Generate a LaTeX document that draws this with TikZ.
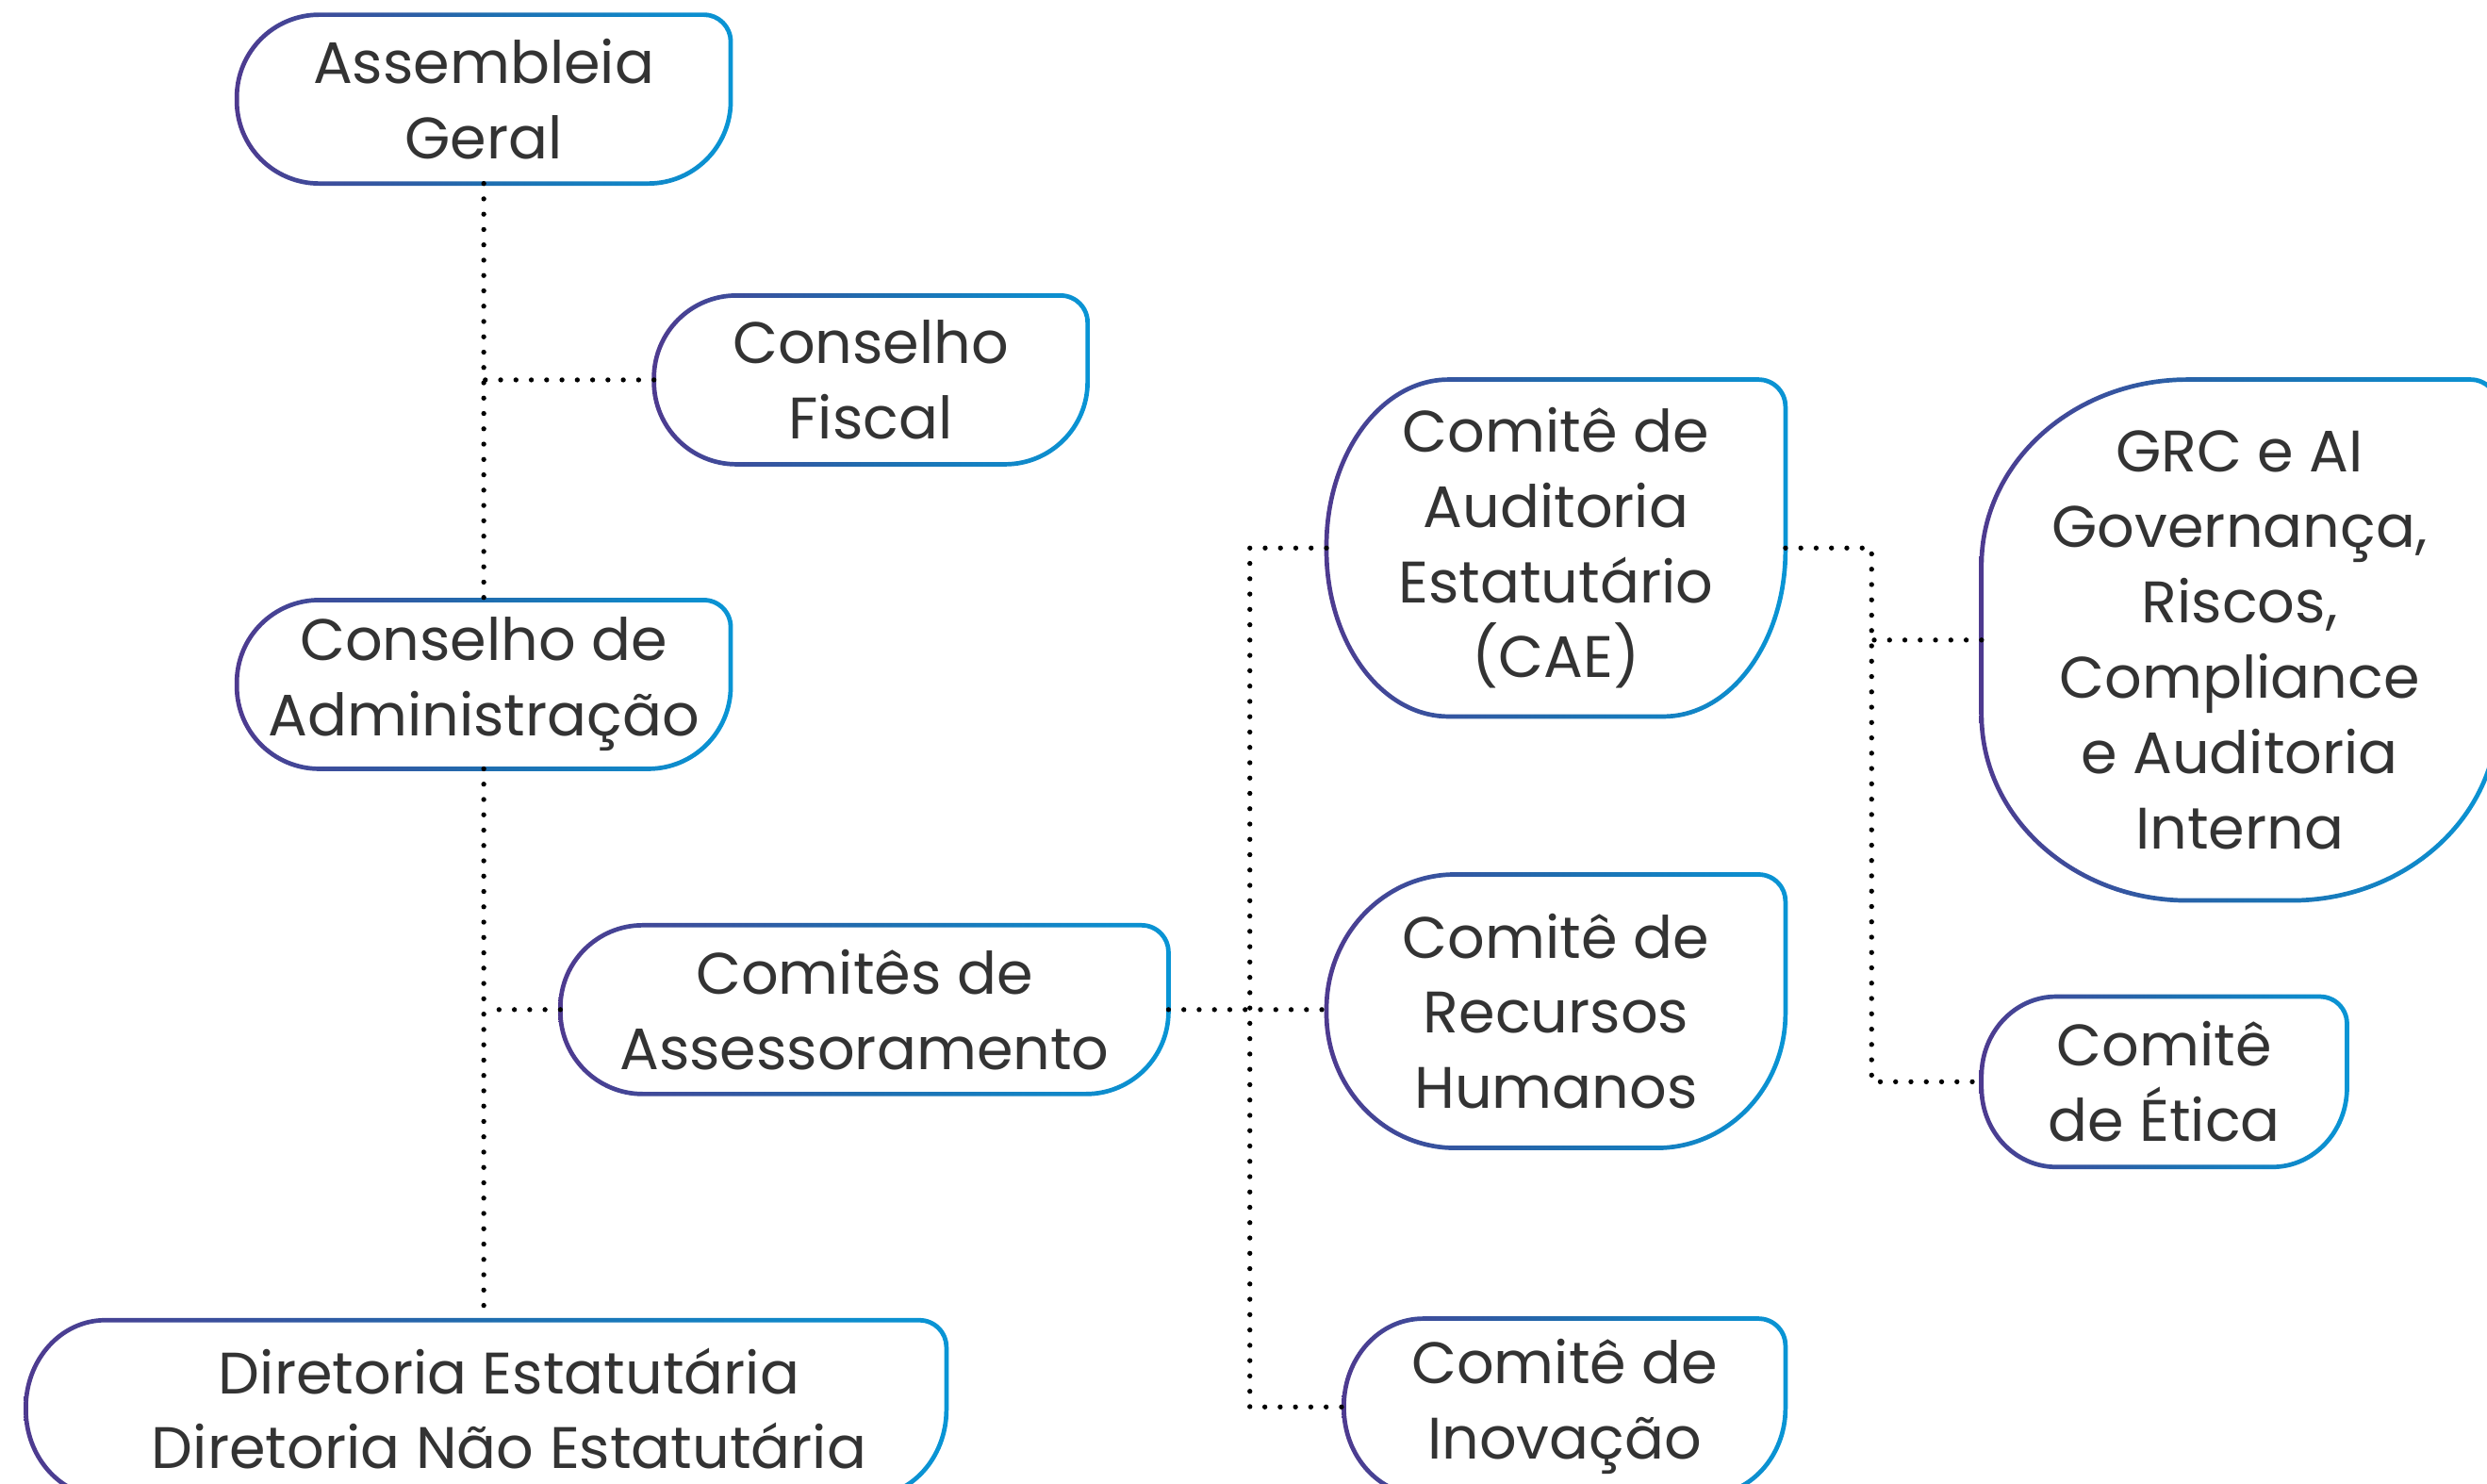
\documentclass[tikz,border=0pt]{standalone}
\usepackage{fontspec}
\setmainfont{Poppins}
\usetikzlibrary{calc}
\definecolor{txtgray}{HTML}{333333}
\definecolor{gradleft}{HTML}{4E3A8F}
\definecolor{gradmid}{HTML}{1F6DAF}
\definecolor{gradright}{HTML}{0995D5}
\tikzset{
  orgbox/.style={inner sep=0pt, align=center, text=txtgray,
    font=\fontsize{10.5pt}{13.5pt}\selectfont},
  link/.style={line width=0.9pt, line cap=round, dash pattern=on 0pt off 2.75pt},
}
% outline of a box: node, x radius, y radius, offset
\newcommand{\framepath}[4]{%
  ($(#1.north west)+({#2},{#4})$) -- ($(#1.north east)+({-0.17},{#4})$)
  arc[start angle=90, end angle=0, radius={0.17+(#4)}]
  -- ($(#1.south east)+({#4},{#3})$)
  arc[start angle=0, end angle=-90, x radius={#2+(#4)}, y radius={#3+(#4)}]
  -- ($(#1.south west)+({#2},{-(#4)})$)
  arc[start angle=270, end angle=180, x radius={#2+(#4)}, y radius={#3+(#4)}]
  -- ($(#1.north west)+({-(#4)},{-(#3)})$)
  arc[start angle=180, end angle=90, x radius={#2+(#4)}, y radius={#3+(#4)}]
  -- cycle}
\newcommand{\orgframe}[3]{%
  \shade[even odd rule, left color=gradleft, right color=gradright, middle color=gradmid]
    \framepath{#1}{#2}{#3}{0.014} \framepath{#1}{#2}{#3}{-0.014};}
\begin{document}
\begin{tikzpicture}
  \clip (0,0) rectangle (15.68,9.35);
  % left column
  \node[orgbox, minimum width=3.10cm, minimum height=1.05cm] (ag) at (3.05,8.725) {Assembleia\\Geral};
  \node[orgbox, minimum width=2.72cm, minimum height=1.05cm] (cf) at (5.49,6.955) {Conselho\\Fiscal};
  \node[orgbox, minimum width=3.10cm, minimum height=1.05cm] (ca) at (3.05,5.035) {Conselho de\\Administração};
  \node[orgbox, minimum width=3.82cm, minimum height=1.05cm] (cs) at (5.45,2.985) {Comitês de\\Assessoramento};
  \node[orgbox, minimum width=5.79cm, minimum height=1.10cm] (dir) at (3.065,0.47)
    {\hspace*{0.29cm}Diretoria Estatutária\\\hspace*{0.29cm}Diretoria Não Estatutária};
  % committees
  \node[orgbox, minimum width=2.88cm, minimum height=2.11cm] (cae) at (9.81,5.895) {Comitê de\\Auditoria\\Estatutário\\(CAE)};
  \node[orgbox, minimum width=2.88cm, minimum height=1.71cm] (rh) at (9.81,2.975) {Comitê de\\Recursos\\Humanos};
  \node[orgbox, minimum width=2.77cm, minimum height=1.10cm] (ino) at (9.865,0.48) {Comitê de\\Inovação};
  % right column
  \node[orgbox, minimum width=3.24cm, minimum height=3.27cm] (grc) at (14.12,5.315) {GRC e AI\\Governança,\\Riscos,\\Compliance\\e Auditoria\\Interna};
  \node[orgbox, minimum width=2.29cm, minimum height=1.06cm] (eti) at (13.645,2.53) {Comitê\\de Ética};
  % frames
  \orgframe{ag}{0.52}{0.52}
  \orgframe{cf}{0.52}{0.52}
  \orgframe{ca}{0.52}{0.52}
  \orgframe{cs}{0.52}{0.52}
  \orgframe{dir}{0.50}{0.55}
  \orgframe{cae}{0.77}{1.05}
  \orgframe{rh}{0.81}{0.85}
  \orgframe{ino}{0.50}{0.55}
  \orgframe{grc}{1.30}{1.17}
  \orgframe{eti}{0.47}{0.50}
  % buses
  \coordinate (busl) at (7.88,0);
  \coordinate (busr) at (11.80,0);
  % connectors
  \draw[link] (ag.south) -- (ca.north);
  \draw[link] (cf.west) -- (cf.west -| ag.south);
  \draw[link] (ca.south) -- (ca.south |- dir.north);
  \draw[link] (cs.west) -- (cs.west -| ca.south);
  \draw[link] (cs.east) -- (cs.east -| rh.west);
  \draw[link] (cae.west) -| (busl |- ino.west) -- (ino.west);
  \draw[link] (cae.east) -| (busr |- eti.west) -- (eti.west);
  \draw[link] (grc.west) -- (grc.west -| busr);
\end{tikzpicture}
\end{document}
